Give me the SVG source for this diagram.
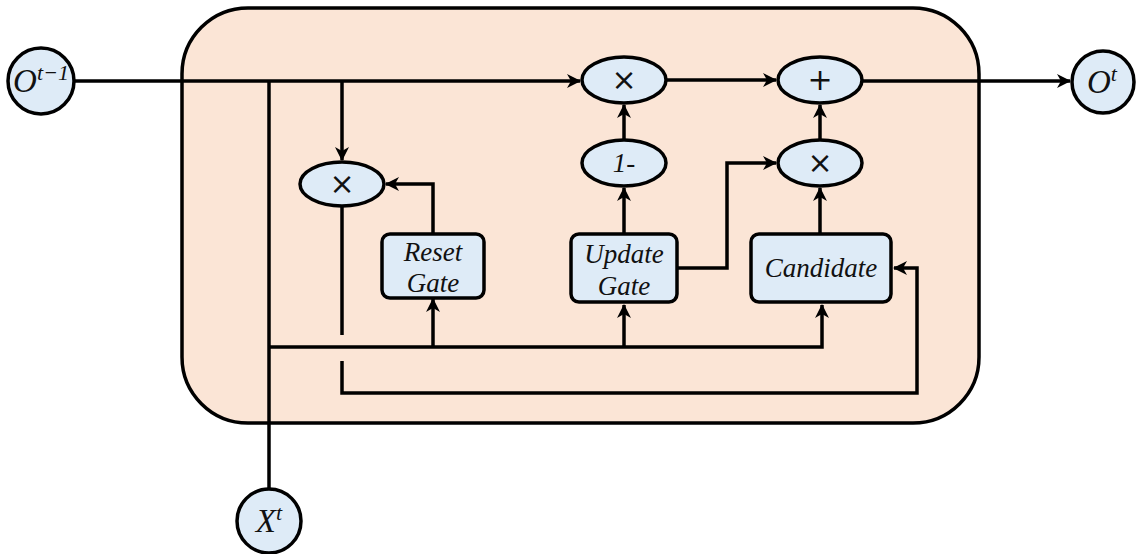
<svg xmlns="http://www.w3.org/2000/svg" width="1136" height="554" viewBox="0 0 1136 554">
<style>
.n{fill:#DEEBF7;stroke:#000;stroke-width:3.5}
.c{fill:none;stroke:#000;stroke-width:3.5}
.t{font-family:"Liberation Serif","DejaVu Serif",serif;font-style:italic;font-size:27px;fill:#111;text-anchor:middle}
.x{font-family:"DejaVu Sans",sans-serif;font-size:30px;fill:#111;text-anchor:middle}
.m{font-family:"Liberation Serif","DejaVu Serif",serif;font-style:italic;font-size:33px;fill:#111;text-anchor:middle}
.s{font-size:22px;font-style:italic}
</style>
<defs>
<marker id="a" viewBox="0 0 14 14" refX="13" refY="7" markerWidth="14" markerHeight="14" markerUnits="userSpaceOnUse" orient="auto">
<path d="M0,0 L14,7 L0,14 L4,7 z" fill="#000"/>
</marker>
</defs>
<rect x="182" y="8" width="797" height="415" rx="66" ry="66" fill="#FBE5D6" stroke="#000" stroke-width="3.5"/>
<g id="connectors">
<path class="c" d="M74,81 H580" marker-end="url(#a)"/>
<path class="c" d="M269,81 V489"/>
<path class="c" d="M342,81 V160" marker-end="url(#a)"/>
<path class="c" d="M666,80 H776" marker-end="url(#a)"/>
<path class="c" d="M862,81 H1070" marker-end="url(#a)"/>
<path class="c" d="M624,140 V105" marker-end="url(#a)"/>
<path class="c" d="M820,140 V105" marker-end="url(#a)"/>
<path class="c" d="M624,234 V188" marker-end="url(#a)"/>
<path class="c" d="M820,234 V188" marker-end="url(#a)"/>
<path class="c" d="M677,268 H727 V163 H776" marker-end="url(#a)"/>
<path class="c" d="M433,233 V184 H386" marker-end="url(#a)"/>
<path class="c" d="M269,347 H822 V305" marker-end="url(#a)"/>
<path class="c" d="M433,347 V299" marker-end="url(#a)"/>
<path class="c" d="M624,347 V305" marker-end="url(#a)"/>
<path class="c" d="M342,206 V335"/>
<path class="c" d="M342,361 V393 H917 V268 H894" marker-end="url(#a)"/>
</g>
<g id="o_prev"><circle class="n" cx="41" cy="81" r="33"/><text class="m" x="41" y="92">O<tspan class="s" dy="-12">t−1</tspan></text></g>
<g id="o_t"><circle class="n" cx="1103" cy="82" r="31"/><text class="m" x="1102" y="93">O<tspan class="s" dy="-12">t</tspan></text></g>
<g id="x_t"><circle class="n" cx="269" cy="521" r="32"/><text class="m" x="269" y="532">X<tspan class="s" dy="-12">t</tspan></text></g>
<g id="mul1"><ellipse class="n" cx="624" cy="80" rx="42" ry="23"/><text class="x" x="624" y="90">×</text></g>
<g id="plus"><ellipse class="n" cx="820" cy="80" rx="42" ry="23"/><text class="x" x="820" y="90">+</text></g>
<g id="oneminus"><ellipse class="n" cx="624" cy="163" rx="42" ry="23"/><text class="t" x="624" y="172">1-</text></g>
<g id="mul2"><ellipse class="n" cx="820" cy="163" rx="42" ry="23"/><text class="x" x="820" y="173">×</text></g>
<g id="mul3"><ellipse class="n" cx="342" cy="184" rx="42" ry="22"/><text class="x" x="342" y="194">×</text></g>
<g id="reset"><rect class="n" x="382" y="234" width="102" height="64" rx="8"/><text class="t" x="433" y="261">Reset</text><text class="t" x="433" y="292">Gate</text></g>
<g id="update"><rect class="n" x="571" y="234" width="106" height="68" rx="8"/><text class="t" x="624" y="263">Update</text><text class="t" x="624" y="295">Gate</text></g>
<g id="candidate"><rect class="n" x="751" y="234" width="140" height="68" rx="8"/><text class="t" x="821" y="277">Candidate</text></g>
</svg>
